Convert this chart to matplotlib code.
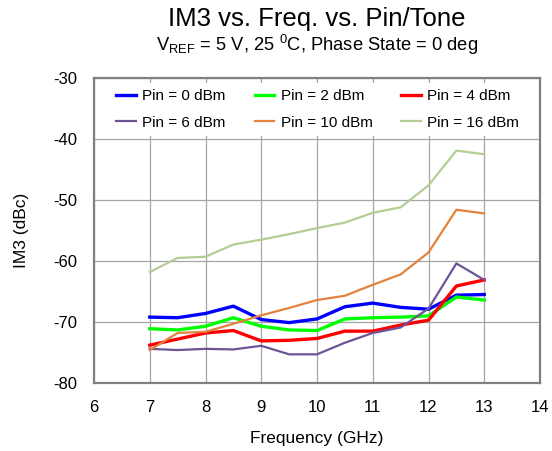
import matplotlib
matplotlib.use("Agg")
import matplotlib.pyplot as plt

plt.rcParams['font.family'] = ['Liberation Sans', 'DejaVu Sans']
plt.rcParams['mathtext.fontset'] = 'custom'
plt.rcParams['mathtext.rm'] = 'Liberation Sans'
plt.rcParams['mathtext.it'] = 'Liberation Sans:italic'
plt.rcParams['mathtext.bf'] = 'Liberation Sans:bold'
plt.rcParams['axes.unicode_minus'] = False

# Frequency sweep (GHz)
freq = [7.0, 7.5, 8.0, 8.5, 9.0, 9.5, 10.0, 10.5, 11.0, 11.5, 12.0, 12.5, 13.0]

# IM3 (dBc) for each input power per tone
pin_0 = [-69.2, -69.3, -68.6, -67.4, -69.6, -70.1, -69.5, -67.5, -66.9, -67.6, -67.9, -65.6, -65.5]
pin_2 = [-71.1, -71.3, -70.7, -69.3, -70.7, -71.3, -71.4, -69.5, -69.3, -69.2, -69.0, -65.9, -66.4]
pin_4 = [-73.8, -72.8, -71.8, -71.4, -73.1, -73.0, -72.7, -71.5, -71.5, -70.5, -69.7, -64.1, -63.1]
pin_6 = [-74.4, -74.6, -74.4, -74.5, -73.9, -75.3, -75.3, -73.4, -71.8, -70.9, -67.8, -60.4, -63.1]
pin_10 = [-74.6, -71.8, -71.6, -70.3, -68.9, -67.7, -66.4, -65.7, -63.9, -62.2, -58.6, -51.6, -52.2]
pin_16 = [-61.8, -59.5, -59.3, -57.3, -56.5, -55.6, -54.6, -53.7, -52.1, -51.2, -47.6, -41.9, -42.5]

series_labels = ['Pin = 0 dBm', 'Pin = 2 dBm', 'Pin = 4 dBm',
                 'Pin = 6 dBm', 'Pin = 10 dBm', 'Pin = 16 dBm']
series_values = [pin_0, pin_2, pin_4, pin_6, pin_10, pin_16]
series_colors = ['#0000FF', '#00FF00', '#FF0000', '#6E5495', '#E3823C', '#B3CE92']
series_widths = [2.4, 2.4, 2.4, 1.6, 1.6, 1.6]

x_ticks = [6, 7, 8, 9, 10, 11, 12, 13, 14]
y_ticks = [-80, -70, -60, -50, -40, -30]

fig = plt.figure(figsize=(5.52, 4.51), dpi=100)
ax = fig.add_axes([94 / 552, 68 / 451, 446 / 552, 305 / 451])

lines = []
for vals, lab, col, lw in zip(series_values, series_labels, series_colors, series_widths):
    ln, = ax.plot(freq, vals, color=col, lw=lw, label=lab, zorder=3)
    lines.append(ln)

ax.set_xlim(6, 14)
ax.set_ylim(-80, -30)
ax.set_xticks(x_ticks)
ax.set_yticks(y_ticks)
ax.grid(True, color='#A6A6A6', lw=0.9, zorder=0)
ax.set_axisbelow(True)
ax.tick_params(length=0, labelsize=12, pad=12, colors='black')
for sp in ax.spines.values():
    sp.set_color('#808080')
    sp.set_linewidth(1.6)

# legend filled row by row (3 columns x 2 rows)
order = [0, 3, 1, 4, 2, 5]
leg = ax.legend([lines[i] for i in order], [series_labels[i] for i in order],
                ncol=3, loc='upper left', bbox_to_anchor=(0.036, 0.984),
                borderaxespad=0, fontsize=11, frameon=True, fancybox=False,
                handlelength=1.3, handletextpad=0.4, columnspacing=1.9,
                labelspacing=0.82, borderpad=0.4)
leg.get_frame().set_facecolor('white')
leg.get_frame().set_edgecolor('none')
leg.get_frame().set_alpha(1.0)
leg.set_zorder(5)

cx = (94 + 446 / 2) / 552
fig.text(cx, 1 - 19 / 451, 'IM3 vs. Freq. vs. Pin/Tone', ha='center', va='center', fontsize=18.5)
fig.text(cx, 1 - 45 / 451, r'V$_{\rm REF}$ = 5 V, 25 $^{\rm 0}$C, Phase State = 0 deg',
         ha='center', va='center', fontsize=13.2)
fig.text(cx, 1 - 438 / 451, 'Frequency (GHz)', ha='center', va='center', fontsize=12.5)
fig.text(22 / 552, 1 - 230 / 451, 'IM3 (dBc)', ha='center', va='center', rotation=90, fontsize=12.5)

fig.savefig('out.png', dpi=100)
